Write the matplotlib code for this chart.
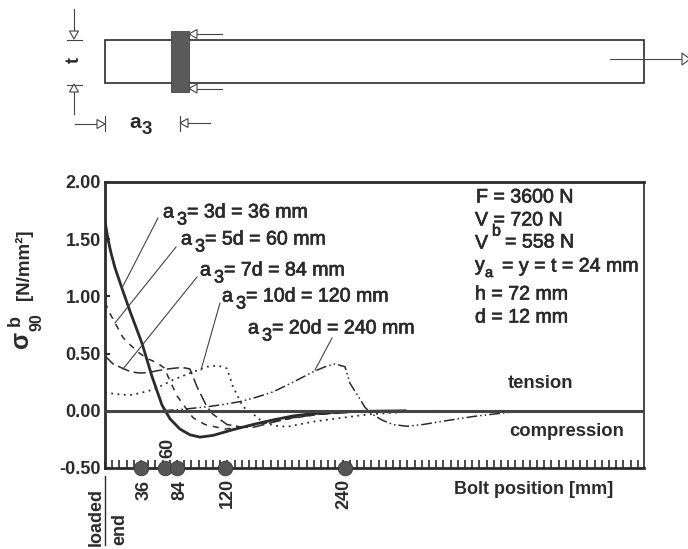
import matplotlib
matplotlib.use("Agg")
import matplotlib.pyplot as plt
import matplotlib.patheffects as pe
from matplotlib.patches import Rectangle, Polygon

plt.rcParams['font.family'] = ['Liberation Sans', 'DejaVu Sans']

x36 = [0, 3, 6, 10, 17, 25, 37, 47, 57, 65, 75, 85, 95, 108, 128, 148, 168, 188, 208, 230, 255, 300]
y36 = [1.66, 1.5, 1.38, 1.25, 1.07, 0.87, 0.59, 0.30, 0.05, -0.07, -0.16, -0.21, -0.23, -0.215, -0.165, -0.12, -0.08, -0.045, -0.025, -0.012, -0.005, 0.0]
x60 = [0, 5, 10, 18, 26, 35, 44, 52, 60, 63, 72, 82, 88, 100, 120, 150, 180, 210, 250]
y60 = [0.95, 0.85, 0.77, 0.64, 0.57, 0.50, 0.45, 0.42, 0.37, 0.30, 0.13, 0.01, -0.06, -0.12, -0.16, -0.125, -0.075, -0.035, -0.005]
x84 = [0, 8, 18, 26, 35, 44, 52, 62, 72, 80, 85, 92, 102, 108, 122, 135, 148, 168, 188, 215, 260]
y84 = [0.48, 0.41, 0.37, 0.34, 0.33, 0.335, 0.35, 0.365, 0.375, 0.375, 0.365, 0.21, 0.035, -0.03, -0.12, -0.14, -0.145, -0.10, -0.06, -0.03, -0.005]
x120 = [0, 8, 18, 27, 35, 44, 52, 60, 68, 85, 102, 113, 122, 128, 138, 147, 158, 170, 182, 208, 238, 265, 300, 330]
y120 = [0.16, 0.15, 0.14, 0.14, 0.155, 0.175, 0.20, 0.235, 0.27, 0.33, 0.385, 0.395, 0.37, 0.21, 0.035, -0.02, -0.10, -0.13, -0.14, -0.095, -0.06, -0.03, -0.01, 0.0]
x240 = [58, 80, 102, 118, 135, 150, 168, 188, 208, 220, 230, 240, 245, 253, 260, 268, 278, 288, 302, 318, 335, 368, 402, 435]
y240 = [0.0, 0.015, 0.035, 0.055, 0.08, 0.115, 0.165, 0.25, 0.34, 0.385, 0.41, 0.385, 0.24, 0.13, 0.03, -0.035, -0.085, -0.12, -0.135, -0.12, -0.095, -0.05, -0.015, 0.0]
y_ticks = [-0.5, 0.0, 0.5, 1.0, 1.5, 2.0]
y_tick_labels = ['-0.50', '0.00', '0.50', '1.00', '1.50', '2.00']
bolt_pos = [36, 60, 72, 120, 240]
bolt_labels = ['36', '60', '84', '120', '240']

W, H = 688, 549
ink = '#2b2b2b'
fig = plt.figure(figsize=(W/100, H/100), dpi=100)
L, R, T, B = 105, 644, 182, 468
ax = fig.add_axes([L/W, 1-B/H, (R-L)/W, (B-T)/H])
ax.set_xlim(0, R-L)
ax.set_ylim(-0.5, 2.0)

ax.plot(x36, y36, color=ink, lw=2.0)
ax.plot(x60, y60, color=ink, lw=1.1, ls=(0, (4, 4)))
ax.plot(x84, y84, color=ink, lw=1.1, ls=(0, (8, 3)))
ax.plot(x120, y120, color=ink, lw=1.3, ls=(0, (1, 2.5)))
ax.plot(x240, y240, color=ink, lw=1.1, ls=(0, (7, 2, 1, 2, 1, 2)))
ax.axhline(0, color='#444444', lw=2.2, zorder=4)

for s in ax.spines.values():
    s.set_color(ink)
    s.set_linewidth(1.2)
ax.spines['left'].set_linewidth(2)
ax.spines['top'].set_linewidth(2)
ax.spines['bottom'].set_linewidth(2)
ax.set_yticks(y_ticks)
ax.set_yticklabels(y_tick_labels, fontsize=13, fontweight='bold', color=ink)
ax.tick_params(axis='y', direction='in', length=3.5, width=1.5, color=ink, pad=3)
ax.set_xticks([i*7.2 for i in range(75)])
ax.set_xticklabels([])
ax.tick_params(axis='x', direction='in', length=5.5, width=1.2, color=ink)
ax.plot(bolt_pos, [-0.5]*len(bolt_pos), 'o', color='#555555', ms=10.5, mec='#3c3c3c', mew=0.6, clip_on=False, zorder=5)

ov = fig.add_axes([0, 0, 1, 1])
ov.set_xlim(0, W)
ov.set_ylim(H, 0)
ov.axis('off')
ov.patch.set_alpha(0)

def txt(x, y, s, size=13.3, **kw):
    kw.setdefault('ha', 'left')
    kw.setdefault('va', 'center')
    ov.text(x, y, s, fontsize=size, fontweight='bold', color=ink, **kw)

def med(x, y, s, size=14.1, **kw):
    kw.setdefault('ha', 'left')
    kw.setdefault('va', 'center')
    t = ov.text(x, y, s, fontsize=size, color=ink, **kw)
    t.set_path_effects([pe.withStroke(linewidth=0.5, foreground=ink)])

def line(xs, ys, lw=0.8, color='#444444'):
    ov.plot(xs, ys, color=color, lw=lw)

def head(tipx, tipy, dx, dy, ln=8, hw=4.5):
    nx, ny = -dy, dx
    pts = [(tipx, tipy), (tipx-ln*dx+hw*nx, tipy-ln*dy+hw*ny), (tipx-ln*dx-hw*nx, tipy-ln*dy-hw*ny)]
    ov.add_patch(Polygon(pts, closed=True, fc='white', ec='#444444', lw=0.8, zorder=6))

# specimen sketch
ov.add_patch(Rectangle((105, 40), 539, 42.5, fc='none', ec=ink, lw=1.2))
ov.add_patch(Rectangle((171, 31), 18, 61, fc='#5a5a5a', ec='#444444', lw=0.6, zorder=5))
line([189, 222], [34, 34]); head(189, 34, -1, 0)
line([189, 222], [88.5, 88.5]); head(189, 88.5, -1, 0)
line([610, 682], [59, 59]); head(690, 59, 1, 0, ln=8, hw=6)
line([74, 74], [9, 32]); head(74, 39, 0, 1)
line([74, 74], [92, 114]); head(74, 84, 0, -1)
line([67, 82], [39.5, 39.5]); line([67, 82], [84.5, 84.5])
txt(74, 60, 't', 13, ha='center', rotation=90)
line([75, 97], [124, 124]); head(105, 124, 1, 0)
line([105, 105], [116, 131])
line([188, 210], [123, 123]); head(180, 123, -1, 0)
line([180, 180], [116, 131])
txt(129, 123, 'a', 15)
txt(142, 129, '3', 13.5)

# curve leaders and labels
labs = [(163, 212, '3d = 36 mm'), (181, 239, '5d = 60 mm'),
        (200, 270, '7d = 84 mm'), (222, 296, '10d = 120 mm'),
        (248, 328, '20d = 240 mm')]
for x, y, s in labs:
    med(x, y, 'a')
    med(x+14, y+8, '3', 13)
    med(x+24, y, '= ' + s)
line([158, 122], [218, 288])
line([176, 115], [247, 323])
line([197, 123], [277, 369])
line([220, 201], [303, 370])
line([332, 315], [338, 370])

# parameter block
med(476, 197, 'F = 3600 N')
med(475, 220, 'V = 720 N')
med(475, 243, 'V')
med(492, 231, 'b', 11.5)
med(505, 242, '= 558 N')
med(475, 265, 'y')
med(485, 273, 'a', 10.5)
med(502, 266, '= y = t = 24 mm')
med(475, 294, 'h = 72 mm')
med(475, 317, 'd = 12 mm')

txt(508, 384, 'tension')
txt(509, 431, 'compression')
txt(454, 490, 'Bolt position [mm]', 13)

# y axis label
txt(21, 339, '\u03c3', 18, ha='center', rotation=90)
txt(15, 321, 'b', 13, ha='center', rotation=90)
txt(37, 322, '90', 11.5, ha='center', rotation=90)
txt(24, 265, '[N/mm\u00b2]', 13.5, ha='center', rotation=90)

# bolt position labels
label_xy = [(144, 490), (168, 448), (180, 490), (227, 493), (344, 494)]
for (lx, ly), lab in zip(label_xy, bolt_labels):
    txt(lx, ly, lab, 13, ha='center', rotation=90)
txt(96, 517, 'loaded', 13, ha='center', rotation=90)
txt(120, 529, 'end', 13, ha='center', rotation=90)
line([105, 105], [476, 545], lw=1, color=ink)

fig.savefig('out.png', dpi=100)
